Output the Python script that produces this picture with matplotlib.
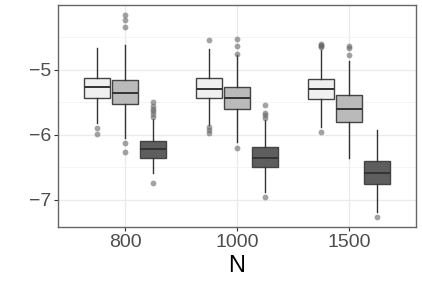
import matplotlib.pyplot as plt

plt.rcParams['font.family'] = ['Liberation Sans', 'DejaVu Sans']

groups = ['800', '1000', '1500']
fills = ['#F0F0F0', '#BABABA', '#5E5E5E']

# five-number summaries per method, one value per N
q1 = [[-5.44, -5.44, -5.45], [-5.53, -5.61, -5.80], [-6.36, -6.49, -6.76]]
med = [[-5.27, -5.29, -5.29], [-5.36, -5.44, -5.60], [-6.22, -6.35, -6.59]]
q3 = [[-5.13, -5.13, -5.14], [-5.16, -5.26, -5.39], [-6.09, -6.19, -6.40]]
whislo = [[-5.82, -5.85, -5.88], [-6.05, -6.11, -6.36], [-6.59, -6.88, -7.19]]
whishi = [[-4.67, -4.68, -4.69], [-4.62, -4.77, -4.86], [-5.75, -5.77, -5.93]]
fliers = [
    [[-5.89, -5.98], [-4.54, -5.88, -5.92, -5.97], [-4.60, -4.62, -4.63, -4.65, -5.96]],
    [[-4.16, -4.24, -4.35, -6.12, -6.26], [-4.52, -4.63, -4.75, -6.20], [-4.63, -4.67, -4.77]],
    [[-5.49, -5.55, -5.60, -5.64, -5.68, -5.72, -6.74], [-5.54, -5.67, -5.70, -5.74, -6.95], [-7.26]],
]

fig = plt.figure(figsize=(4.22, 2.82), dpi=100)
ax = fig.add_axes([58 / 422, 1 - 227 / 282, 358 / 422, 222 / 282])

offsets = [-0.25, 0, 0.25]
for m in range(3):
    stats = []
    for g in range(3):
        stats.append(dict(q1=q1[m][g], med=med[m][g], q3=q3[m][g],
                          whislo=whislo[m][g], whishi=whishi[m][g],
                          fliers=fliers[m][g]))
    pos = [g + 1 + offsets[m] for g in range(3)]
    ax.bxp(stats, positions=pos, widths=0.235, patch_artist=True, showcaps=False,
           boxprops=dict(facecolor=fills[m], edgecolor='#444444', linewidth=1.0),
           medianprops=dict(color='#333333', linewidth=1.4),
           whiskerprops=dict(color='#333333', linewidth=1.0),
           flierprops=dict(marker='o', markerfacecolor='#666666', markeredgecolor='none',
                           markersize=4.2, alpha=0.6),
           zorder=3)

ax.set_xlim(0.4, 3.6)
ax.set_ylim(-7.415, -4.005)
ax.set_xticks([1, 2, 3])
ax.set_xticklabels(groups)
ax.set_yticks([-7, -6, -5])
ax.set_yticklabels(['\u22127', '\u22126', '\u22125'])
ax.set_yticks([-6.5, -5.5, -4.5], minor=True)
ax.grid(which='major', color='#EBEBEB', linewidth=1.0, zorder=0)
ax.grid(which='minor', axis='y', color='#F2F2F2', linewidth=0.6, zorder=0)
ax.set_axisbelow(True)

for s in ax.spines.values():
    s.set_color('#666666')
    s.set_linewidth(1.0)

ax.tick_params(axis='both', which='major', labelsize=14, colors='#4D4D4D',
               length=3, width=0.8, pad=2)
ax.tick_params(axis='both', which='major', color='#333333')
ax.tick_params(axis='y', which='minor', length=0)
ax.set_xlabel('N', fontsize=17, labelpad=3)

fig.savefig('out.png', dpi=100)
